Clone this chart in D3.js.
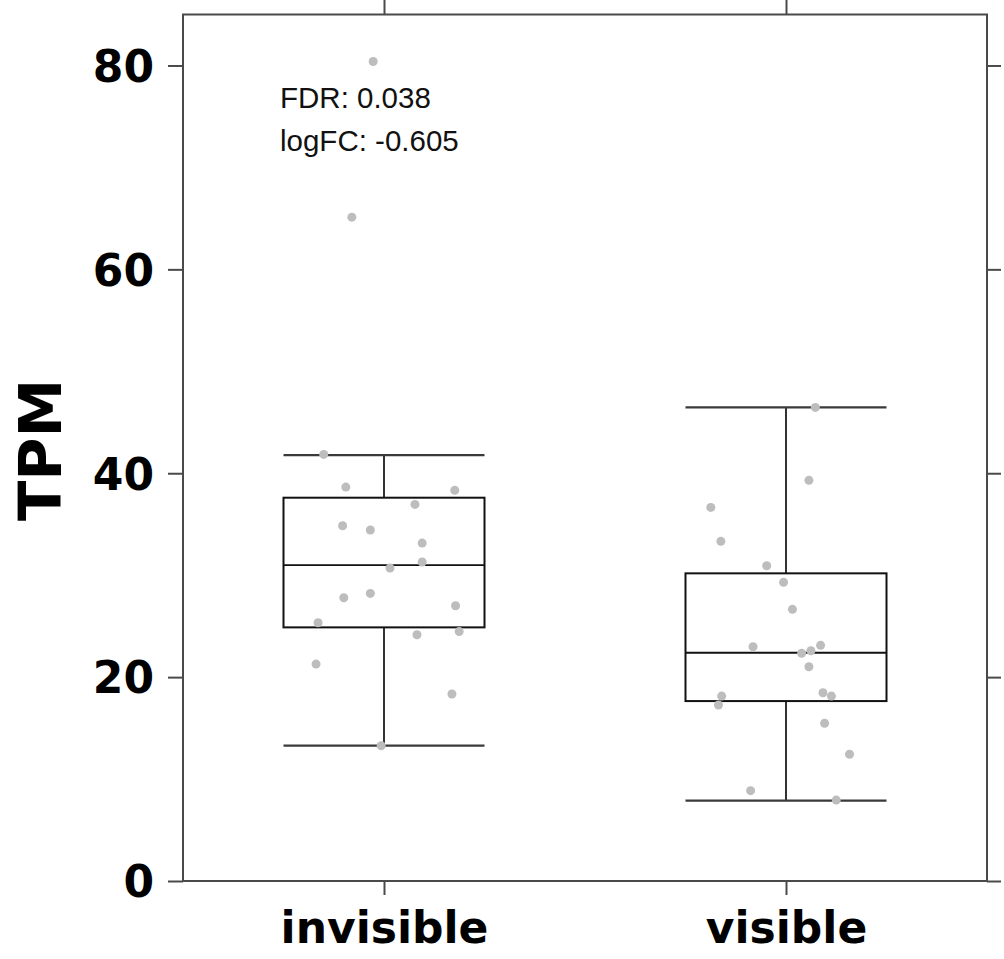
<!DOCTYPE html>
<html>
<head>
<meta charset="utf-8">
<script src="https://cdn.jsdelivr.net/npm/d3@7"></script>
<style>
  html, body { margin: 0; padding: 0; background: #fff; }
  svg { display: block; }
</style>
</head>
<body>
<svg id="chart" width="1004" height="959"></svg>
<script>
// ---- data ----
const categories = ["invisible", "visible"];
const yTicks = [0, 20, 40, 60, 80];

// box statistics: lower whisker, Q1, median, Q3, upper whisker
const lowerWhisker = [13.27, 7.88];
const q1 = [24.88, 17.65];
const median = [30.99, 22.39];
const q3 = [37.6, 30.18];
const upperWhisker = [41.78, 46.46];

// individual samples (TPM) and their horizontal jitter (in category units)
const invisibleValues = [41.85, 38.64, 38.32, 36.94, 34.85, 34.43, 33.15, 31.29, 30.70, 27.79,
                         28.21, 27.0, 25.33, 24.16, 24.48, 21.28, 18.34, 13.27, 80.39, 65.12];
const invisibleJitter = [-0.150, -0.095, 0.176, 0.077, -0.103, -0.034, 0.095, 0.095, 0.015, -0.100,
                         -0.034, 0.178, -0.164, 0.082, 0.187, -0.169, 0.169, -0.007, -0.027, -0.080];
const visibleValues = [46.46, 39.30, 36.65, 33.32, 30.93, 29.30, 26.65, 22.98, 22.33, 22.59,
                       23.12, 21.02, 18.14, 17.26, 18.47, 18.14, 15.47, 12.43, 8.86, 7.94];
const visibleJitter = [0.073, 0.057, -0.187, -0.162, -0.048, -0.006, 0.016, -0.082, 0.039, 0.062,
                       0.086, 0.057, -0.160, -0.168, 0.092, 0.113, 0.096, 0.158, -0.088, 0.125];

const annotations = ["FDR: 0.038", "logFC: -0.605"];
const yLabel = "TPM";

// ---- layout ----
const L = 183, R = 987, T = 14.5, B = 881;
const svg = d3.select("#chart");

const x = d3.scaleLinear().domain([0.5, 2.5]).range([L, R]);
const y = d3.scaleLinear().domain([0, 85]).range([B, T]);
const boxHalf = 0.25;

const frameColor = "#4a4a4a";
const boldFont = "'DejaVu Sans', sans-serif";

// axes (ticks on all four sides)
const tickFmt = d3.format("d");
const gl = svg.append("g").attr("transform", `translate(${L},0)`)
  .call(d3.axisLeft(y).tickValues(yTicks).tickFormat(tickFmt).tickSize(15).tickSizeOuter(0).tickPadding(14));
const gr = svg.append("g").attr("transform", `translate(${R},0)`)
  .call(d3.axisRight(y).tickValues(yTicks).tickFormat("").tickSize(14).tickSizeOuter(0));
const gb = svg.append("g").attr("transform", `translate(0,${B})`)
  .call(d3.axisBottom(x).tickValues([1, 2]).tickFormat((d, i) => categories[i]).tickSize(14).tickSizeOuter(0));
const gt = svg.append("g").attr("transform", `translate(0,${T})`)
  .call(d3.axisTop(x).tickValues([1, 2]).tickFormat("").tickSize(15).tickSizeOuter(0));

[gl, gr, gb, gt].forEach(g => {
  g.select(".domain").remove();
  g.selectAll(".tick line").attr("stroke", frameColor).attr("stroke-width", 2);
  g.selectAll("text").attr("fill", "#000").attr("font-family", boldFont)
    .attr("font-weight", "bold").attr("font-size", 44);
});
gl.selectAll("text").attr("dy", "0.36em");
gb.selectAll("text").attr("dy", null).attr("y", 62);

// frame
svg.append("rect")
  .attr("x", L).attr("y", T).attr("width", R - L).attr("height", B - T)
  .attr("fill", "none").attr("stroke", frameColor).attr("stroke-width", 2);

// y label
svg.append("text")
  .attr("transform", `translate(61,${450}) rotate(-90)`)
  .attr("text-anchor", "middle")
  .attr("font-family", boldFont).attr("font-weight", "bold").attr("font-size", 59)
  .attr("fill", "#000")
  .text(yLabel);

// boxes
const boxG = svg.append("g");
categories.forEach((c, i) => {
  const cx = i + 1;
  const g = boxG.append("g");
  g.append("line").attr("x1", x(cx)).attr("x2", x(cx))
    .attr("y1", y(upperWhisker[i])).attr("y2", y(q3[i]))
    .attr("stroke", "#333").attr("stroke-width", 2);
  g.append("line").attr("x1", x(cx)).attr("x2", x(cx))
    .attr("y1", y(q1[i])).attr("y2", y(lowerWhisker[i]))
    .attr("stroke", "#333").attr("stroke-width", 2);
  [upperWhisker[i], lowerWhisker[i]].forEach(v => {
    g.append("line").attr("x1", x(cx - boxHalf)).attr("x2", x(cx + boxHalf))
      .attr("y1", y(v)).attr("y2", y(v))
      .attr("stroke", "#3a3a3a").attr("stroke-width", 2.2);
  });
  g.append("rect")
    .attr("x", x(cx - boxHalf)).attr("width", x(cx + boxHalf) - x(cx - boxHalf))
    .attr("y", y(q3[i])).attr("height", y(q1[i]) - y(q3[i]))
    .attr("fill", "none").attr("stroke", "#111").attr("stroke-width", 2);
  g.append("line").attr("x1", x(cx - boxHalf)).attr("x2", x(cx + boxHalf))
    .attr("y1", y(median[i])).attr("y2", y(median[i]))
    .attr("stroke", "#111").attr("stroke-width", 1.8);
});

// points
const pts = [];
invisibleValues.forEach((v, k) => pts.push({ g: 1, v, j: invisibleJitter[k] }));
visibleValues.forEach((v, k) => pts.push({ g: 2, v, j: visibleJitter[k] }));
svg.append("g").selectAll("circle").data(pts).join("circle")
  .attr("cx", d => x(d.g + d.j))
  .attr("cy", d => y(d.v))
  .attr("r", 4.5)
  .attr("fill", "#bdbdbd");

// annotation
svg.append("g").selectAll("text").data(annotations).join("text")
  .attr("x", 280)
  .attr("y", (d, i) => 108 + i * 43)
  .attr("font-family", "'Liberation Sans', Arial, sans-serif")
  .attr("font-size", 29.5)
  .attr("fill", "#111")
  .text(d => d);
</script>
</body>
</html>
